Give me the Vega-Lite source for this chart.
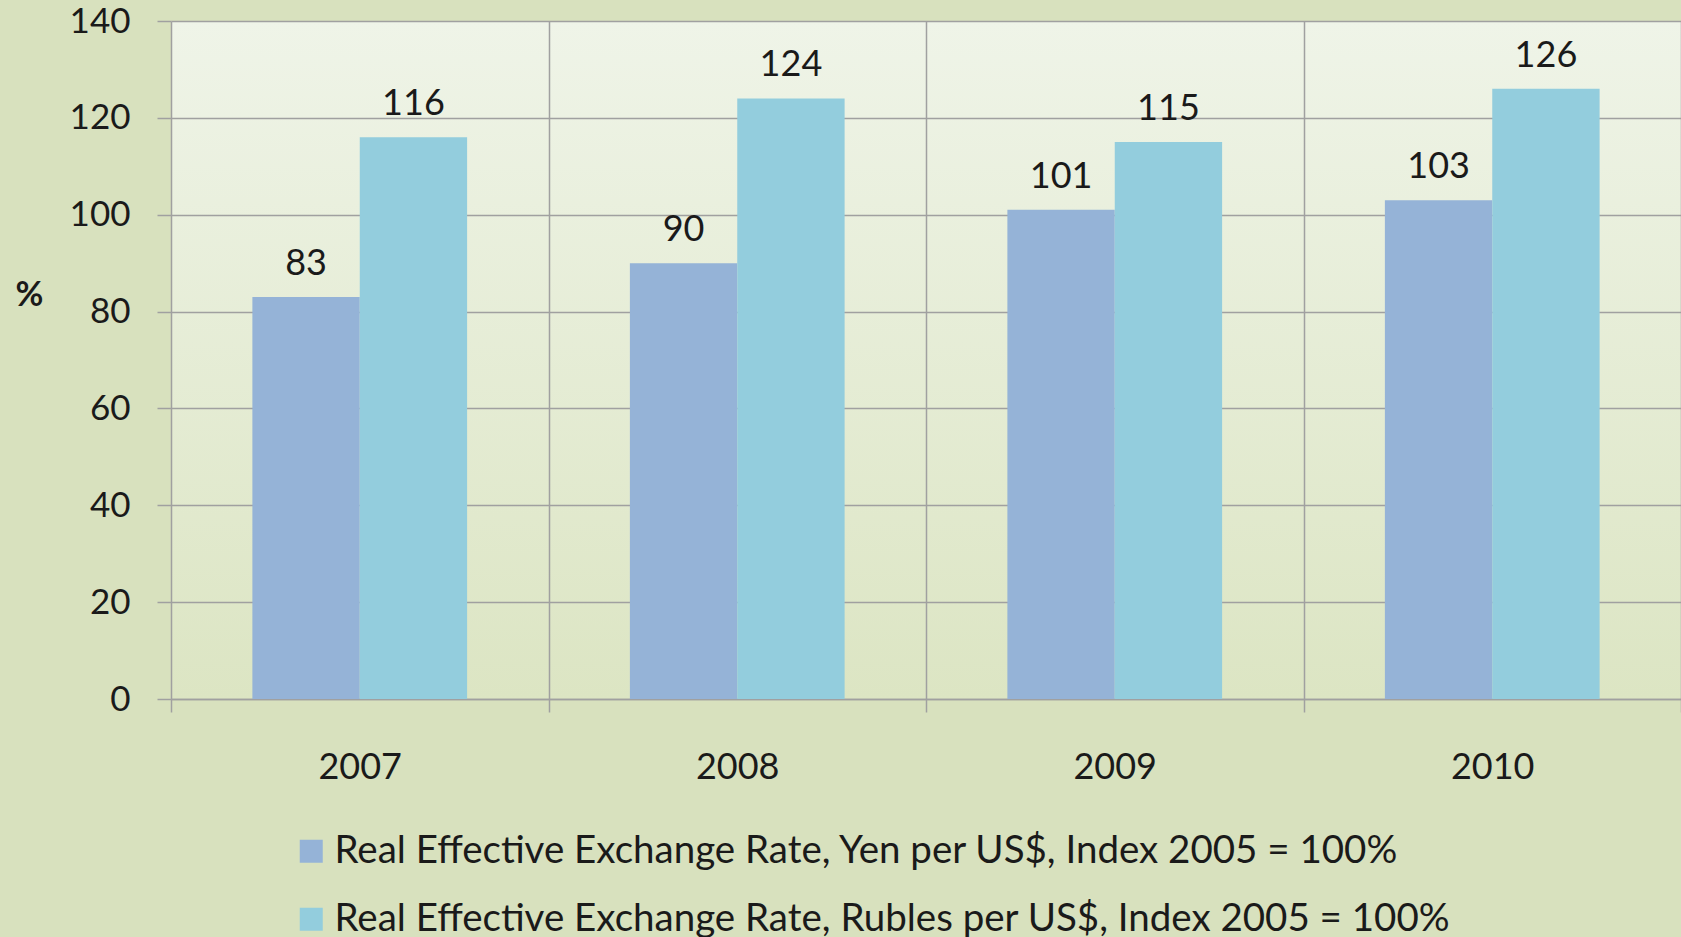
{
  "$schema": "https://vega.github.io/schema/vega-lite/v6.json",
  "width": 1510,
  "height": 678,
  "autosize": {"type": "none"},
  "padding": {"left": 171, "top": 21, "right": 0, "bottom": 238},
  "background": "#D8E1BE",
  "config": {
    "font": "Lato",
    "view": {"stroke": null, "fill": {"gradient": "linear", "x1": 0, "y1": 0, "x2": 0, "y2": 1, "stops": [{"offset": 0, "color": "#EFF4E8"}, {"offset": 1, "color": "#DCE5C3"}]}},
    "axis": {"gridColor": "#A0A0A0", "gridWidth": 1.5, "domainColor": "#A0A0A0", "domainWidth": 1.5, "tickColor": "#A0A0A0", "tickWidth": 1.5, "labelColor": "#1a1a1a", "labelFont": "Lato", "labelFontSize": 35}
  },
  "data": {
    "values": [
      {"year": "2007", "series": "Real Effective Exchange Rate, Yen per US$, Index 2005 = 100%", "value": 83},
      {"year": "2007", "series": "Real Effective Exchange Rate, Rubles per US$, Index 2005 = 100%", "value": 116},
      {"year": "2008", "series": "Real Effective Exchange Rate, Yen per US$, Index 2005 = 100%", "value": 90},
      {"year": "2008", "series": "Real Effective Exchange Rate, Rubles per US$, Index 2005 = 100%", "value": 124},
      {"year": "2009", "series": "Real Effective Exchange Rate, Yen per US$, Index 2005 = 100%", "value": 101},
      {"year": "2009", "series": "Real Effective Exchange Rate, Rubles per US$, Index 2005 = 100%", "value": 115},
      {"year": "2010", "series": "Real Effective Exchange Rate, Yen per US$, Index 2005 = 100%", "value": 103},
      {"year": "2010", "series": "Real Effective Exchange Rate, Rubles per US$, Index 2005 = 100%", "value": 126}
    ]
  },
  "encoding": {
    "x": {
      "field": "year", "type": "nominal",
      "scale": {"paddingInner": 0, "paddingOuter": 0},
      "axis": {"title": null, "labelAngle": 0, "tickBand": "extent", "grid": true, "tickSize": 13, "labelPadding": 38, "labelFontSize": 36, "domain": true}
    },
    "xOffset": {
      "field": "series", "type": "nominal",
      "sort": ["Real Effective Exchange Rate, Yen per US$, Index 2005 = 100%", "Real Effective Exchange Rate, Rubles per US$, Index 2005 = 100%"],
      "scale": {"paddingInner": 0, "paddingOuter": 0.758}
    },
    "y": {
      "field": "value", "type": "quantitative",
      "scale": {"domain": [0, 140], "nice": false},
      "axis": {"values": [0, 20, 40, 60, 80, 100, 120, 140], "tickSize": 14, "labelPadding": 27, "domain": false, "title": "%", "titleAngle": 0, "titleX": -142, "titleY": 274, "titleFontSize": 34, "titleFont": "Lato", "titleFontWeight": "bold", "titleColor": "#1a1a1a", "titleAlign": "center", "titleBaseline": "middle"}
    }
  },
  "layer": [
    {
      "mark": {"type": "bar", "strokeWidth": 0},
      "encoding": {
        "color": {
          "field": "series", "type": "nominal",
          "sort": ["Real Effective Exchange Rate, Yen per US$, Index 2005 = 100%", "Real Effective Exchange Rate, Rubles per US$, Index 2005 = 100%"],
          "scale": {"domain": ["Real Effective Exchange Rate, Yen per US$, Index 2005 = 100%", "Real Effective Exchange Rate, Rubles per US$, Index 2005 = 100%"], "range": ["#95B3D7", "#93CDDD"]},
          "legend": {"title": null, "orient": "none", "legendX": 121, "legendY": 811, "padding": 0, "symbolType": "square", "symbolSize": 529, "symbolStrokeWidth": 0, "labelFontSize": 38.5, "labelFont": "Lato", "labelColor": "#1a1a1a", "labelLimit": 2000, "labelOffset": 4, "rowPadding": 29, "direction": "vertical"}
        }
      }
    },
    {
      "mark": {"type": "text", "baseline": "alphabetic", "dy": -22, "fontSize": 36, "font": "Lato", "color": "#1a1a1a"},
      "encoding": {"text": {"field": "value", "type": "quantitative"}}
    }
  ]
}
